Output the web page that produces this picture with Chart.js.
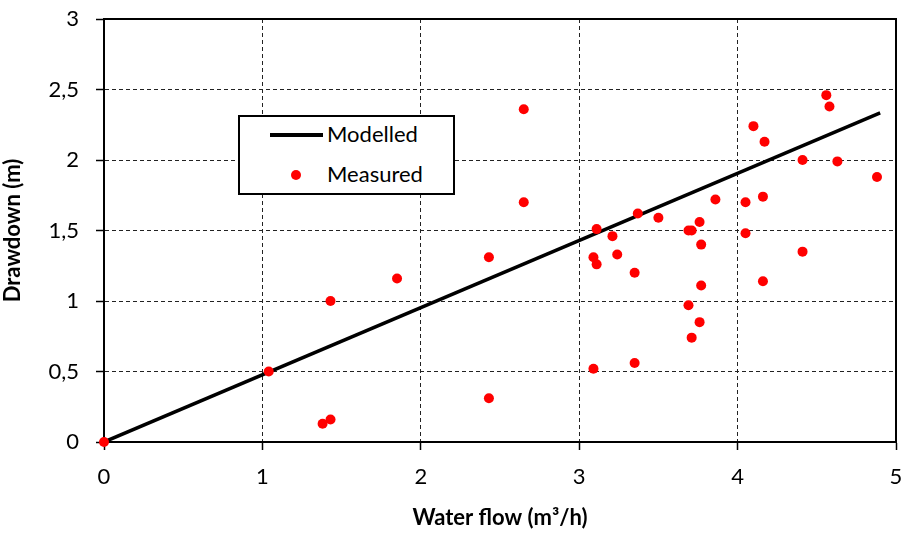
<!DOCTYPE html>
<html>
<head>
<meta charset="utf-8">
<script src="https://cdn.jsdelivr.net/npm/chart.js@4"></script>
<style>
    body { margin: 0; background: #fff; }
    #wrap { position: relative; width: 903px; height: 533px; }
    #legend {
        position: absolute; left: 238px; top: 115px; width: 213px; height: 76px;
        border: 2px solid #000; background: #fff;
        font-family: Lato, "Noto Sans", sans-serif; font-size: 22px; color: #000;
    }
    #legend .row { position: absolute; left: 87px; line-height: 22px; white-space: nowrap; }
    #legend .line { position: absolute; left: 30px; top: 16px; width: 53px; height: 4px; background: #000; }
    #legend .dot { position: absolute; left: 51px; top: 53px; width: 10px; height: 10px; border-radius: 50%; background: #ff0000; }
</style>
</head>
<body>
<div id="wrap">
    <canvas id="chart" width="903" height="533"></canvas>
    <div id="legend">
        <div class="line"></div>
        <div class="row" style="top: 6px;">Modelled</div>
        <div class="dot"></div>
        <div class="row" style="top: 46px;">Measured</div>
    </div>
</div>
<script>
// measured points (water flow m3/h, drawdown m)
var measuredX = [0, 1.04, 1.38, 1.43, 1.43, 1.85, 2.43, 2.43, 2.65, 2.65,
    3.09, 3.09, 3.11, 3.11, 3.21, 3.24, 3.35, 3.35, 3.37, 3.50,
    3.69, 3.69, 3.71, 3.71, 3.76, 3.76, 3.77, 3.77, 3.86, 4.05,
    4.05, 4.10, 4.16, 4.16, 4.17, 4.41, 4.41, 4.56, 4.58, 4.63, 4.88];
var measuredY = [0, 0.50, 0.13, 0.16, 1.00, 1.16, 1.31, 0.31, 2.36, 1.70,
    1.31, 0.52, 1.51, 1.26, 1.46, 1.33, 1.20, 0.56, 1.62, 1.59,
    1.50, 0.97, 1.50, 0.74, 1.56, 0.85, 1.40, 1.11, 1.72, 1.70,
    1.48, 2.24, 1.74, 1.14, 2.13, 2.00, 1.35, 2.46, 2.38, 1.99, 1.88];

// modelled line end points
var modelX = [0, 4.9];
var modelY = [0, 2.335];

var yTicks = [0, 0.5, 1, 1.5, 2, 2.5, 3];
var xTicks = [0, 1, 2, 3, 4, 5];

function toPoints(xs, ys) {
    var pts = [];
    for (var i = 0; i < xs.length; i++) {
        pts.push({ x: xs[i], y: ys[i] });
    }
    return pts;
}

// solid frame round the plot area, under the marks
var framePlugin = {
    id: 'frame',
    beforeDatasetsDraw: function (chart) {
        var a = chart.chartArea;
        var ctx = chart.ctx;
        ctx.save();
        ctx.strokeStyle = '#000';
        ctx.lineWidth = 2;
        ctx.strokeRect(a.left, a.top, a.right - a.left, a.bottom - a.top);
        ctx.restore();
    }
};

var font = { family: 'Lato, "Noto Sans", sans-serif', size: 22 };
var titleFont = { family: 'Lato, "Noto Sans", sans-serif', size: 22, weight: 'bold' };

var ctx = document.getElementById('chart').getContext('2d');
var chart = new Chart(ctx, {
    type: 'scatter',
    data: {
        datasets: [{
            label: 'Measured',
            data: toPoints(measuredX, measuredY),
            backgroundColor: '#ff0000',
            borderWidth: 0,
            pointRadius: 5,
            clip: false,
            order: 0
        }, {
            label: 'Modelled',
            data: toPoints(modelX, modelY),
            showLine: true,
            borderColor: '#000',
            borderWidth: 3.5,
            pointRadius: 0,
            order: 1
        }]
    },
    options: {
        responsive: false,
        animation: false,
        layout: { padding: { top: 19, right: 7, left: 0, bottom: 0 } },
        plugins: { legend: { display: false }, tooltip: { enabled: false } },
        scales: {
            x: {
                type: 'linear', min: 0, max: 5,
                afterBuildTicks: function (s) { s.ticks = xTicks.map(function (v) { return { value: v }; }); },
                afterFit: function (s) { s.height = 91; s.paddingLeft = 0; s.paddingRight = 0; },
                grid: { color: '#222', lineWidth: 1, tickLength: 8, tickColor: '#000', tickWidth: 1.5 },
                border: { display: true, color: '#000', width: 2, dash: [4, 3] },
                ticks: { color: '#000', font: font, padding: 14, maxRotation: 0 },
                title: { display: true, text: 'Water flow (m³/h)', color: '#000', font: titleFont, padding: { top: 0, bottom: 2 } }
            },
            y: {
                type: 'linear', min: 0, max: 3,
                afterBuildTicks: function (s) { s.ticks = yTicks.map(function (v) { return { value: v }; }); },
                afterFit: function (s) { s.width = 104; s.paddingTop = 0; s.paddingBottom = 0; },
                grid: { color: '#222', lineWidth: 1, tickLength: 8, tickColor: '#000', tickWidth: 1.5 },
                border: { display: true, color: '#000', width: 2, dash: [4, 3] },
                ticks: {
                    color: '#000', font: font, padding: 17,
                    callback: function (v) { return String(v).replace('.', ','); }
                },
                title: { display: true, text: 'Drawdown (m)', color: '#000', font: titleFont, padding: { top: 0, bottom: 10 } }
            }
        }
    },
    plugins: [framePlugin]
});
</script>
</body>
</html>
